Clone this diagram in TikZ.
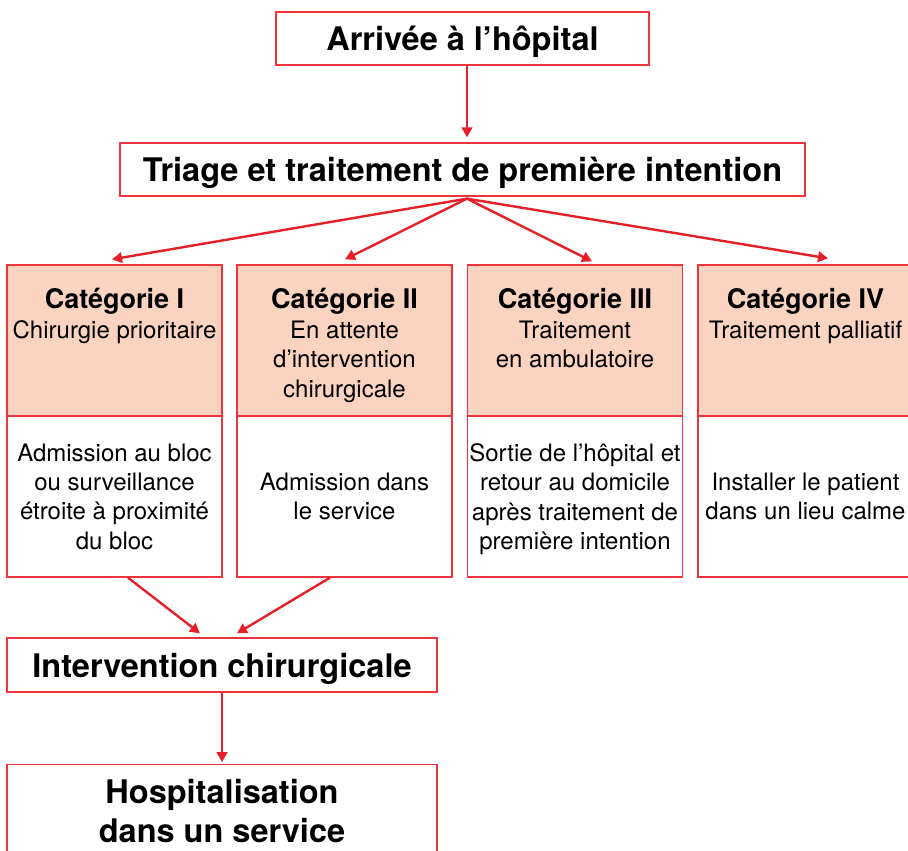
\documentclass[tikz,border=0pt]{standalone}
\usepackage{fontspec}
\setmainfont{TeX Gyre Heros}
\usetikzlibrary{arrows.meta}
\definecolor{bred}{RGB}{236,52,60}
\definecolor{ared}{RGB}{230,32,40}
\definecolor{peach}{RGB}{251,211,193}
\newcommand\cattitlefont{\bfseries\fontsize{27}{29.5}\selectfont}
\begin{document}
\begin{tikzpicture}[x=1pt,y=-1pt,
 box/.style={draw=bred, line width=1.3pt, inner sep=0pt, align=center},
 title/.style={box, font=\bfseries\fontsize{32.5}{39}\selectfont},
 onetitle/.style={title, text height=24pt, text depth=0pt},
 hdr/.style={draw=bred, line width=1.3pt, fill=peach, minimum width=215pt, minimum height=151pt, inner sep=0pt},
 bodybox/.style={draw=bred, line width=1.3pt, minimum width=215pt, minimum height=161pt, inner sep=0pt},
 bodytext/.style={inner sep=0pt, align=center, font=\fontsize{24}{29.3}\selectfont},
 hdrtext/.style={inner sep=0pt, anchor=north, align=center, font=\fontsize{24}{29.5}\selectfont},
 arr/.style={draw=ared, line width=2.4pt, -{Triangle[length=10pt,width=10.5pt]}}
]
\useasboundingbox (0,0) rectangle (908,851);
\clip (0,0) rectangle (908,851);

\node[onetitle, minimum width=373pt, minimum height=53pt] (arrive) at (462.5,38.5) {Arrivée à l’hôpital};
\node[onetitle, minimum width=685pt, minimum height=53pt] (triage) at (462.5,169.5) {Triage et traitement de première intention};

\node[hdr] (h1) at (114.5,340.5) {};
\node[hdr] (h2) at (344.5,340.5) {};
\node[hdr] (h3) at (575,340.5) {};
\node[hdr] (h4) at (805.5,340.5) {};

\node[hdrtext] (t1) at (114.5,288) {{\cattitlefont Catégorie I}\\Chirurgie prioritaire};
\node[hdrtext] (t2) at (344.5,288) {{\cattitlefont Catégorie II}\\En attente\\d’intervention\\chirurgicale};
\node[hdrtext] (t3) at (575,288) {{\cattitlefont Catégorie III}\\Traitement\\en ambulatoire};
\node[hdrtext] (t4) at (805.5,288) {{\cattitlefont Catégorie IV}\\Traitement palliatif};

\node[bodybox] (b1) at (114.5,496.5) {};
\node[bodybox] (b2) at (344.5,496.5) {};
\node[bodybox] (b3) at (575,496.5) {};
\node[bodybox] (b4) at (805.5,496.5) {};

\node[bodytext] (bt1) at (114.5,496.5) {Admission au bloc\\ou surveillance\\étroite à proximité\\du bloc};
\node[bodytext] (bt2) at (344.5,496.5) {Admission dans\\le service};
\node[bodytext] (bt3) at (575,499) {Sortie de l’hôpital et\\retour au domicile\\après traitement de\\première intention};
\node[bodytext] (bt4) at (805.5,496.5) {Installer le patient\\dans un lieu calme};

\node[onetitle, minimum width=430pt, minimum height=54pt] (inter) at (222,665) {Intervention chirurgicale};
\node[title, minimum width=430pt, minimum height=93.4pt] (hosp) at (222,811.5) {Hospitalisation\\dans un service};

\draw[arr] ([xshift=4.5pt]arrive.south) -- ([xshift=4.5pt,yshift=5pt]triage.north);
\draw[arr] ([xshift=4.5pt,yshift=-2pt]triage.south) -- ([xshift=-2.5pt,yshift=5pt]h1.north);
\draw[arr] ([xshift=4.5pt,yshift=-2pt]triage.south) -- ([xshift=0.5pt,yshift=5pt]h2.north);
\draw[arr] ([xshift=4.5pt,yshift=-2pt]triage.south) -- ([xshift=17pt,yshift=3pt]h3.north);
\draw[arr] ([xshift=4.5pt,yshift=-2pt]triage.south) -- ([xshift=22.5pt,yshift=6pt]h4.north);
\draw[arr] ([xshift=13.5pt]b1.south) -- ([xshift=-22pt,yshift=4pt]inter.north);
\draw[arr] ([xshift=-14.5pt]b2.south) -- ([xshift=15pt,yshift=4pt]inter.north);
\draw[arr] (inter.south) -- ([yshift=2pt]hosp.north);
\end{tikzpicture}
\end{document}
